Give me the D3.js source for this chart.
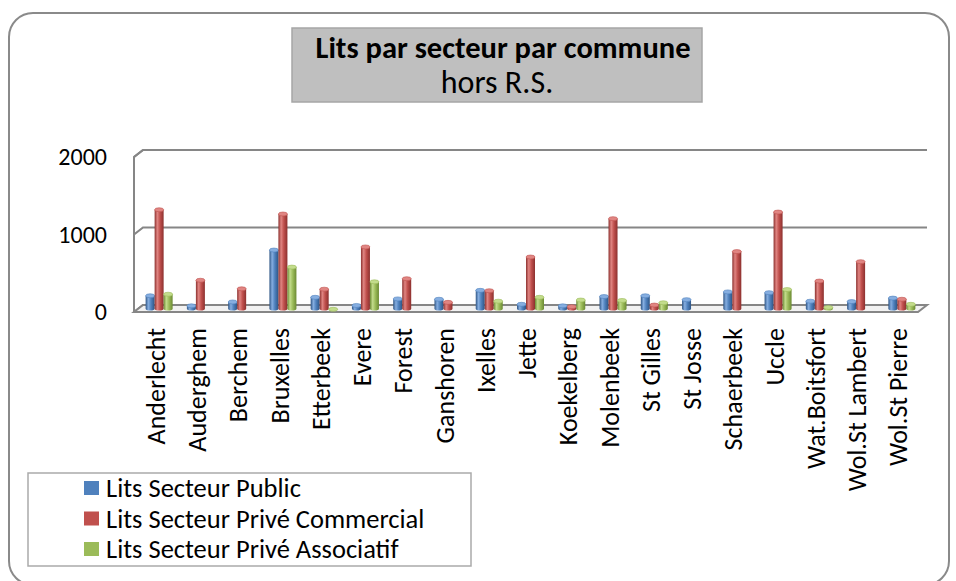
<!DOCTYPE html>
<html>
<head>
<meta charset="utf-8">
<script src="https://cdn.jsdelivr.net/npm/d3@7"></script>
<style>
  body { margin: 0; background: #fff; }
  svg { display: block; font-family: Carlito, "Liberation Sans", Arial, sans-serif; }
</style>
</head>
<body>
<svg width="956" height="581"></svg>
<script>
const categories = ["Anderlecht", "Auderghem", "Berchem", "Bruxelles", "Etterbeek", "Evere", "Forest",
  "Ganshoren", "Ixelles", "Jette", "Koekelberg", "Molenbeek", "St Gilles", "St Josse", "Schaerbeek",
  "Uccle", "Wat.Boitsfort", "Wol.St Lambert", "Wol.St Pierre"];
const seriesNames = ["Lits Secteur Public", "Lits Secteur Privé Commercial", "Lits Secteur Privé Associatif"];
const publicBeds = [190, 60, 110, 780, 170, 65, 150, 145, 260, 80, 60, 180, 190, 140, 240, 230, 120, 115, 160];
const commercialBeds = [1300, 390, 280, 1245, 275, 820, 410, 105, 255, 690, 50, 1185, 70, 0, 760, 1270, 380, 630, 145];
const associatifBeds = [210, 0, 0, 560, 15, 370, 0, 0, 120, 170, 135, 130, 100, 0, 0, 270, 40, 0, 80];
const yTicks = [0, 1000, 2000];

const series = [publicBeds, commercialBeds, associatifBeds];
const colors = ["#4F81BD", "#C0504D", "#9BBB59"];
const dark = ["#2e5585", "#8c302e", "#6b8a33"];
const light = ["#86aee0", "#e08582", "#c3dc8c"];

const svg = d3.select("svg");

// 3D depth offset of the back wall
const depth = { dx: 9, dy: -7 };

// front plane scales
const x = d3.scaleBand().domain(categories).range([134, 918]);
const y = d3.scaleLinear().domain([0, 2000]).range([312, 157]);

// outer frame
svg.append("rect")
  .attr("x", 9).attr("y", 13)
  .attr("width", 940).attr("height", 572)
  .attr("rx", 24)
  .attr("fill", "#fff")
  .attr("stroke", "#8a8a8a")
  .attr("stroke-width", 2);

// gradients for cylinders
const defs = svg.append("defs");
colors.forEach((c, i) => {
  const g = defs.append("linearGradient").attr("id", "grad" + i)
    .attr("x1", "0%").attr("x2", "100%").attr("y1", "0%").attr("y2", "0%");
  g.append("stop").attr("offset", "0%").attr("stop-color", dark[i]);
  g.append("stop").attr("offset", "30%").attr("stop-color", light[i]);
  g.append("stop").attr("offset", "60%").attr("stop-color", c);
  g.append("stop").attr("offset", "100%").attr("stop-color", dark[i]);
});

// walls and gridlines
const grid = svg.append("g").attr("stroke", "#868686").attr("fill", "none");

grid.append("path")
  .attr("d", `M134,${y(0)} L134,${y(2000)} L${134 + depth.dx},${y(2000) + depth.dy}`)
  .attr("stroke-width", 2);

yTicks.forEach((t) => {
  grid.append("path")
    .attr("d", `M134,${y(t)} L${134 + depth.dx},${y(t) + depth.dy} L${918 + depth.dx},${y(t) + depth.dy}`)
    .attr("stroke-width", 2.2);
});

// floor
svg.append("path")
  .attr("d", `M134,${y(0)} L918,${y(0)} L${918 + depth.dx},${y(0) + depth.dy} L${134 + depth.dx},${y(0) + depth.dy} Z`)
  .attr("fill", "#f2f2f2")
  .attr("stroke", "#868686")
  .attr("stroke-width", 2);

// y tick labels
svg.append("g")
  .selectAll("text")
  .data(yTicks)
  .enter()
  .append("text")
  .attr("x", 107)
  .attr("y", (d) => y(d))
  .attr("dy", "0.35em")
  .attr("text-anchor", "end")
  .attr("font-size", 24)
  .attr("fill", "#000")
  .text((d) => d);

// cylinders
const barW = 9;
const ry = 2;
const bars = svg.append("g");
categories.forEach((cat, ci) => {
  const cx = x(cat) + x.bandwidth() / 2 + depth.dx / 2;
  series.forEach((vals, si) => {
    const v = vals[ci];
    if (!v) return;
    const x0 = cx - 1.5 * barW + si * barW;
    const yb = y(0) + depth.dy / 2;
    const yt = y(v) + depth.dy / 2 + ry;
    bars.append("path")
      .attr("d", `M${x0},${yt} L${x0},${yb} A${barW / 2},${ry} 0 0 0 ${x0 + barW},${yb} L${x0 + barW},${yt} Z`)
      .attr("fill", `url(#grad${si})`);
    bars.append("ellipse")
      .attr("cx", x0 + barW / 2).attr("cy", yt)
      .attr("rx", barW / 2).attr("ry", ry)
      .attr("fill", light[si])
      .attr("stroke", colors[si])
      .attr("stroke-width", 0.6);
  });
});

// category labels
svg.append("g")
  .selectAll("text")
  .data(categories)
  .enter()
  .append("text")
  .attr("transform", (d) => `translate(${x(d) + x.bandwidth() / 2 + 1},328) rotate(-90)`)
  .attr("dy", "0.35em")
  .attr("text-anchor", "end")
  .attr("font-size", 26)
  .attr("fill", "#000")
  .text((d) => d);

// title box
svg.append("rect")
  .attr("x", 292).attr("y", 28)
  .attr("width", 410).attr("height", 74)
  .attr("fill", "#BFBFBF")
  .attr("stroke", "#a6a6a6")
  .attr("stroke-width", 1.5);
svg.append("text")
  .attr("x", 503).attr("y", 58)
  .attr("text-anchor", "middle")
  .attr("font-size", 30.5)
  .attr("font-weight", "bold")
  .text("Lits par secteur par commune");
svg.append("text")
  .attr("x", 497).attr("y", 93)
  .attr("text-anchor", "middle")
  .attr("font-size", 32)
  .text("hors R.S.");

// legend
const legend = svg.append("g");
legend.append("rect")
  .attr("x", 28).attr("y", 473)
  .attr("width", 443).attr("height", 93)
  .attr("fill", "#fff")
  .attr("stroke", "#aaa")
  .attr("stroke-width", 1.5);
const item = legend.selectAll("g.item")
  .data(seriesNames)
  .enter()
  .append("g")
  .attr("transform", (d, i) => `translate(84,${488 + i * 30.5})`);
item.append("rect")
  .attr("x", 0).attr("y", -7)
  .attr("width", 15).attr("height", 14)
  .attr("fill", (d, i) => colors[i]);
item.append("text")
  .attr("x", 22)
  .attr("dy", "0.35em")
  .attr("font-size", 26.5)
  .text((d) => d);
</script>
</body>
</html>
